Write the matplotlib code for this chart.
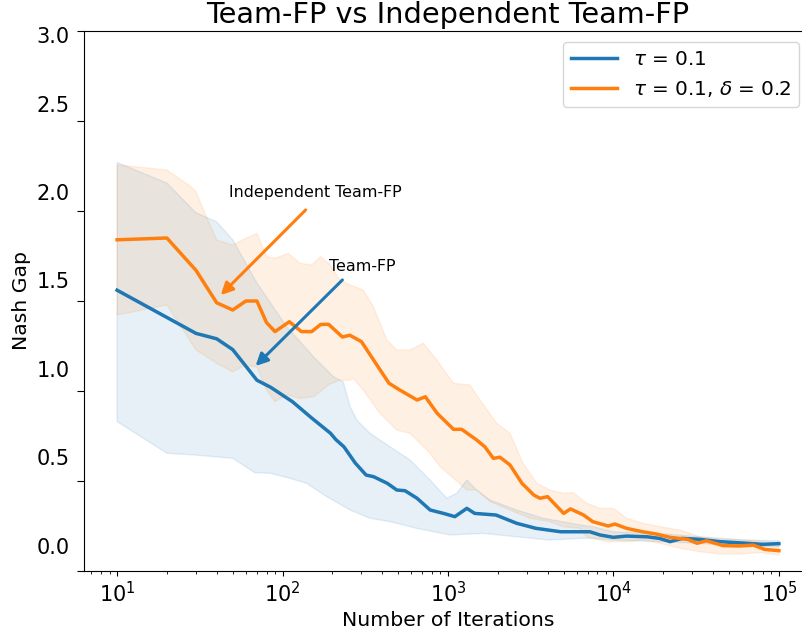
import numpy as np
import matplotlib
matplotlib.use("Agg")
import matplotlib.pyplot as plt
from matplotlib.transforms import ScaledTranslation

# ---- data (Nash gap vs iterations)
blue_x = [10, 30, 40, 50, 70, 85, 115, 150, 195, 210,
          235, 275, 320, 355, 430, 490, 550, 650, 780, 940,
          1100, 1300, 1450, 1950, 2600, 3400, 4800, 7200, 8300, 10000,
          12000, 16000, 19000, 22000, 26000, 33000, 44000, 64000, 80000, 100000]
blue_y = [1.56, 1.32, 1.29, 1.23, 1.06, 1.02, 0.94, 0.85, 0.765, 0.73,
          0.69, 0.60, 0.533, 0.524, 0.487, 0.45, 0.446, 0.404, 0.339, 0.32,
          0.302, 0.348, 0.32, 0.311, 0.265, 0.237, 0.218, 0.218, 0.20, 0.187,
          0.194, 0.19, 0.181, 0.163, 0.181, 0.176, 0.163, 0.154, 0.148, 0.152]

blue_hi_x = [10, 20, 30, 40, 50, 70, 106, 154, 203, 233,
             256, 281, 338, 447, 590, 778, 982, 1130, 1300, 1490,
             1800, 2600, 3770, 6280, 7550, 10000, 19000, 33000, 64000, 100000]
blue_hi_y = [2.27, 2.155, 1.99, 1.94, 1.84, 1.60, 1.357, 1.19, 1.08, 1.05,
             0.913, 0.839, 0.765, 0.69, 0.617, 0.506, 0.404, 0.432, 0.506, 0.45,
             0.394, 0.339, 0.293, 0.256, 0.246, 0.218, 0.209, 0.19, 0.172, 0.168]

blue_lo_x = [10, 20, 30, 50, 68, 84, 111, 140, 185, 256,
             338, 447, 647, 1030, 1630, 2600, 4130, 6280, 7550, 10000,
             19000, 33000, 64000, 100000]
blue_lo_y = [0.83, 0.654, 0.644, 0.626, 0.546, 0.543, 0.515, 0.487, 0.413, 0.339,
             0.293, 0.274, 0.237, 0.20, 0.209, 0.19, 0.172, 0.181, 0.181, 0.172,
             0.163, 0.154, 0.135, 0.135]

orange_x = [10, 20, 30, 40, 50, 60, 70, 80, 90, 110,
            130, 150, 170, 190, 230, 255, 300, 355, 440, 510,
            650, 730, 860, 1080, 1210, 1490, 1670, 1880, 2060, 2370,
            2800, 3300, 3600, 4000, 5000, 5500, 6600, 7500, 9300, 10200,
            12000, 15000, 18000, 22000, 28000, 32000, 36500, 46000, 58000, 70000,
            82000, 100000]
orange_y = [1.84, 1.85, 1.67, 1.49, 1.45, 1.50, 1.50, 1.38, 1.33, 1.385,
            1.33, 1.33, 1.37, 1.37, 1.30, 1.31, 1.274, 1.172, 1.043, 1.006,
            0.95, 0.968, 0.876, 0.787, 0.787, 0.728, 0.69, 0.626, 0.632, 0.589,
            0.487, 0.422, 0.404, 0.413, 0.32, 0.345, 0.311, 0.274, 0.25, 0.261,
            0.237, 0.218, 0.206, 0.187, 0.176, 0.154, 0.168, 0.141, 0.139, 0.144,
            0.12, 0.113]

orange_hi_x = [10, 20, 28, 30, 35, 40, 50, 60, 70, 80,
               90, 108, 128, 150, 170, 194, 222, 256, 307, 354,
               427, 490, 590, 710, 855, 1080, 1360, 1560, 1970, 2370,
               2840, 3440, 4130, 4980, 5720, 6890, 8280, 10000, 12000, 15100,
               19100, 25200, 33300, 44000, 63800, 100000]
orange_hi_y = [2.256, 2.228, 2.135, 2.107, 1.959, 1.839, 1.811, 1.848, 1.876, 1.746,
               1.737, 1.765, 1.709, 1.70, 1.746, 1.70, 1.617, 1.589, 1.561, 1.469,
               1.283, 1.228, 1.228, 1.265, 1.172, 1.043, 1.033, 0.95, 0.82, 0.765,
               0.598, 0.487, 0.45, 0.432, 0.435, 0.376, 0.348, 0.348, 0.293, 0.265,
               0.246, 0.228, 0.19, 0.176, 0.172, 0.154]

orange_lo_x = [10, 20, 30, 40, 50, 58, 70, 80, 90, 106,
               128, 154, 194, 222, 256, 268, 307, 388, 490, 590,
               778, 895, 1080, 1300, 1490, 1800, 2370, 3130, 4130, 4980,
               6280, 6890, 9080, 12000, 15100, 19100, 25200, 33300, 44000, 58000,
               76700, 100000]
orange_lo_y = [1.422, 1.478, 1.228, 1.154, 1.107, 1.139, 1.135, 1.006, 0.941, 0.978,
               0.959, 0.968, 1.04, 1.06, 1.06, 1.07, 1.006, 0.876, 0.783, 0.765,
               0.654, 0.58, 0.515, 0.45, 0.45, 0.385, 0.339, 0.293, 0.274, 0.246,
               0.237, 0.19, 0.163, 0.163, 0.172, 0.154, 0.126, 0.107, 0.094, 0.094,
               0.102, 0.089]

y_ticks = [0.0, 0.5, 1.0, 1.5, 2.0, 2.5, 3.0]

BLUE = "#1f77b4"
ORANGE = "#ff7f0e"


def band(ax, x_hi, y_hi, x_lo, y_lo, color):
    xs = np.concatenate([x_hi, x_lo[::-1]])
    ys = np.concatenate([y_hi, y_lo[::-1]])
    ax.fill(xs, ys, color=color, alpha=0.11, lw=1)


def main():
    fig = plt.figure(figsize=(8.02, 6.39), dpi=100)
    ax = fig.add_axes([84 / 802, 1 - 571 / 639, (812 - 84) / 802, 540 / 639])

    band(ax, blue_hi_x, blue_hi_y, blue_lo_x, blue_lo_y, BLUE)
    band(ax, orange_hi_x, orange_hi_y, orange_lo_x, orange_lo_y, ORANGE)
    ax.plot(blue_x, blue_y, color=BLUE, lw=2.5, label=r"$\tau$ = 0.1")
    ax.plot(orange_x, orange_y, color=ORANGE, lw=2.5,
            label=r"$\tau$ = 0.1, $\delta$ = 0.2")

    # annotations
    ax.annotate("", xy=(42.3, 1.533), xytext=(138, 2.006),
                arrowprops=dict(arrowstyle="-|>", color=ORANGE, lw=2.2,
                                mutation_scale=18, shrinkA=0, shrinkB=0))
    ax.text(158.5, 2.1, "Independent Team-FP", fontsize=11.4,
            ha="center", va="center")
    ax.annotate("", xy=(68.7, 1.139), xytext=(230, 1.617),
                arrowprops=dict(arrowstyle="-|>", color=BLUE, lw=2.2,
                                mutation_scale=18, shrinkA=0, shrinkB=0))
    ax.text(305, 1.689, "Team-FP", fontsize=11.4, ha="center", va="center")

    ax.set_xscale("log")
    ax.set_xlim(10 ** 0.8, 10 ** 5.2)
    ax.set_ylim(0, 3.0)
    ax.set_yticks(y_ticks)
    ax.set_yticklabels([f"{t:.1f}" for t in y_ticks])
    ax.tick_params(labelsize=15)
    ax.tick_params(axis="y", length=5, pad=5.5)

    # tick labels sit above their tick marks in the reference
    shifts_px = [25, 24, 22, 21, 19, 17, -4]
    for lab, dy in zip(ax.get_yticklabels(), shifts_px):
        lab.set_transform(lab.get_transform() +
                          ScaledTranslation(0, dy / 100, fig.dpi_scale_trans))

    ax.set_xlabel("Number of Iterations", fontsize=14.7)
    ax.set_ylabel("Nash Gap", fontsize=14.7)
    ax.set_title("Team-FP vs Independent Team-FP", fontsize=20.7)

    ax.legend(loc="upper right", bbox_to_anchor=(799 / 802, 1 - 42 / 639),
              bbox_transform=fig.transFigure, borderaxespad=0,
              fontsize=14.4, handlelength=2.3)

    fig.savefig("out.png", dpi=100)
    plt.close(fig)


if __name__ == "__main__":
    main()
